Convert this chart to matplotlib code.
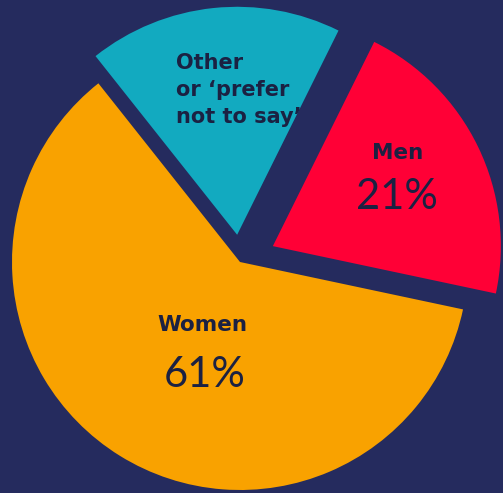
import matplotlib.pyplot as plt

# share of respondents by gender
labels = ["Men", "Other\nor \u2018prefer\nnot to say\u2019", "Women"]
values = [21, 18, 61]
show_pct = [True, False, True]
colors = ["#FF0036", "#12AAC0", "#F9A200"]
explode = [0.16, 0.12, 0.0]

bg = "#252B5E"
ink = "#1B2142"

fig = plt.figure(figsize=(5.03, 4.93), dpi=100, facecolor=bg)
ax = fig.add_axes([0, 0, 1, 1])
ax.set_facecolor(bg)

wedges, _ = ax.pie(values, colors=colors, explode=explode, startangle=-12,
                   counterclock=True, radius=1.0,
                   wedgeprops=dict(linewidth=0))

# axes span chosen so one data unit = 228 px, pie centre at (240, 262) px
ax.set_xlim(-240 / 228, 263 / 228)
ax.set_ylim(-231 / 228, 262 / 228)
ax.set_aspect("auto")
ax.axis("off")

# label anchors (data units)
name_pos = [(0.693, 0.478), (-0.28, 0.755), (-0.163, -0.276)]
pct_pos = [(0.689, 0.285), None, (-0.154, -0.495)]

for i, lab in enumerate(labels):
    x, y = name_pos[i]
    if show_pct[i]:
        ax.text(x, y, lab, ha="center", va="center", fontsize=15.5,
                fontweight="bold", family="DejaVu Sans", color=ink)
        px, py = pct_pos[i]
        ax.text(px, py, f"{values[i]}%", ha="center", va="center",
                fontsize=30, fontweight="normal", family="Lato", color=ink)
    else:
        ax.text(x, y, lab, ha="left", va="center", fontsize=15,
                fontweight="bold", family="DejaVu Sans", color=ink,
                linespacing=1.42)

fig.savefig("out.png", dpi=100, facecolor=bg)
